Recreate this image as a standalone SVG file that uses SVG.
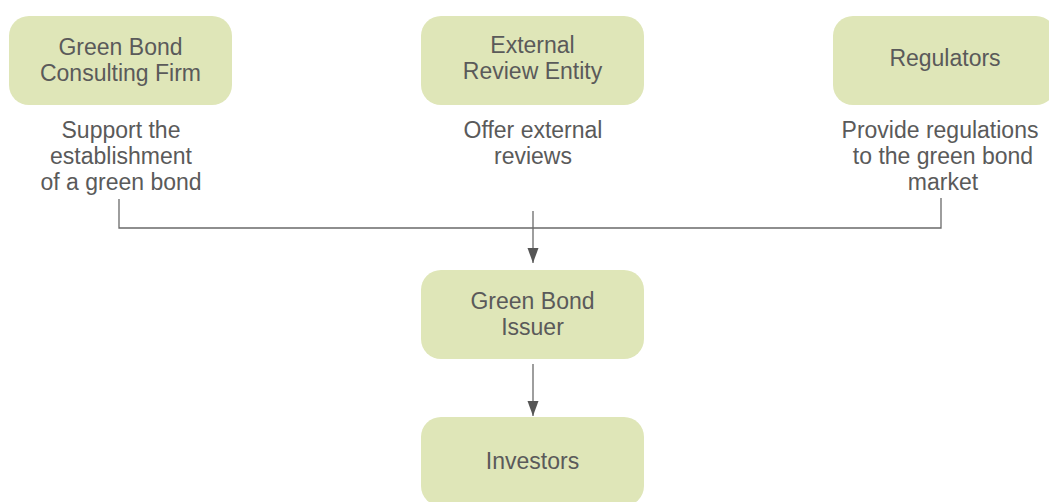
<svg xmlns="http://www.w3.org/2000/svg" width="1049" height="502" viewBox="0 0 1049 502">
  <style>
    .box { fill: #dfe6b8; }
    .label { font-family: "Liberation Sans", Arial, sans-serif; font-size: 23px; fill: #5a5a5a; text-anchor: middle; }
    .wire { fill: none; stroke: #6a6a6a; stroke-width: 1.3; }
  </style>
  <defs>
    <marker id="arrow" markerWidth="16" markerHeight="12" refX="15" refY="5.5" orient="auto" markerUnits="userSpaceOnUse" overflow="visible">
      <path d="M0,0 L15,5.5 L0,11 z" fill="#555555"/>
    </marker>
  </defs>

  <rect width="1049" height="502" fill="#ffffff"/>

  <g id="connectors">
    <path class="wire" d="M119,199 V228 H941 V198"/>
    <path class="wire" d="M533,211 V263" marker-end="url(#arrow)"/>
    <path class="wire" d="M533,364 V416" marker-end="url(#arrow)"/>
  </g>

  <g id="consulting-firm">
    <rect class="box" x="9" y="16" width="223" height="89" rx="20"/>
    <text class="label" x="120.5" y="55">Green Bond</text>
    <text class="label" x="120.5" y="81">Consulting Firm</text>
    <text class="label" x="121" y="138">Support the</text>
    <text class="label" x="121" y="164">establishment</text>
    <text class="label" x="121" y="190">of a green bond</text>
  </g>

  <g id="external-review">
    <rect class="box" x="421" y="16" width="223" height="89" rx="20"/>
    <text class="label" x="532.5" y="53">External</text>
    <text class="label" x="532.5" y="79">Review Entity</text>
    <text class="label" x="533" y="138">Offer external</text>
    <text class="label" x="533" y="164">reviews</text>
  </g>

  <g id="regulators">
    <rect class="box" x="833" y="16" width="223" height="89" rx="20"/>
    <text class="label" x="945" y="66">Regulators</text>
    <text class="label" x="940" y="138">Provide regulations</text>
    <text class="label" x="943" y="164">to the green bond</text>
    <text class="label" x="943" y="190">market</text>
  </g>

  <g id="issuer">
    <rect class="box" x="421" y="270" width="223" height="89" rx="20"/>
    <text class="label" x="532.5" y="309">Green Bond</text>
    <text class="label" x="532.5" y="335">Issuer</text>
  </g>

  <g id="investors">
    <rect class="box" x="421" y="417" width="223" height="89" rx="20"/>
    <text class="label" x="532.5" y="469">Investors</text>
  </g>
</svg>
